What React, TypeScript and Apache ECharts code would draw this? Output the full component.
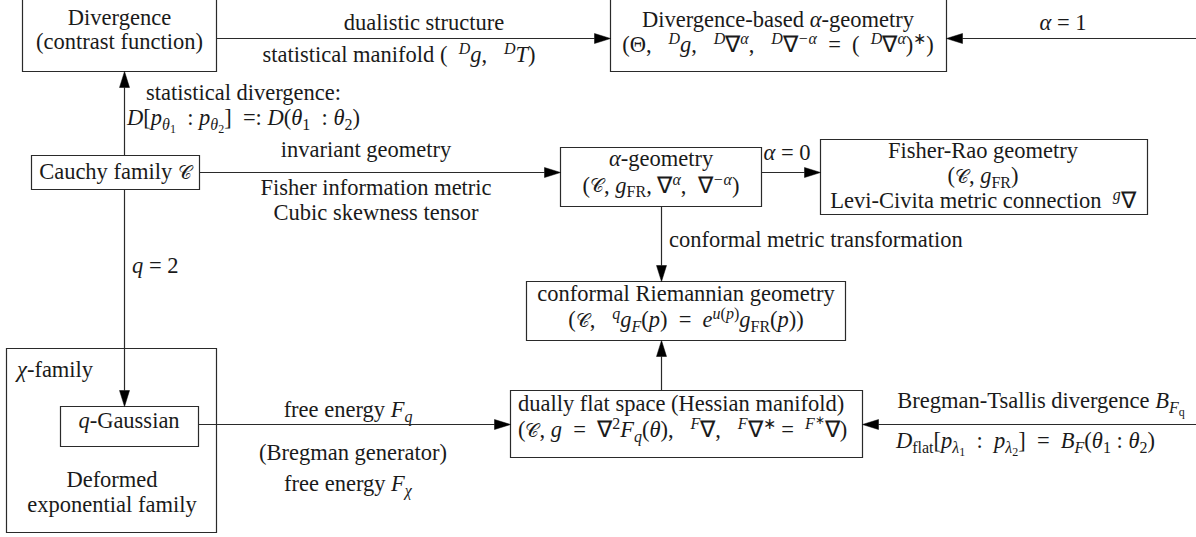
import React, { useEffect, useRef } from 'react';
import * as echarts from 'echarts';

const W = 1196;
const H = 537;
const FAMILY = "'Liberation Serif', serif";
const CALFAMILY = "'DejaVu Serif', serif";
const INK = '#1a1a1a';
const LINE = '#2a2a2a';

// ---------------- content ----------------
const CAL = '{cal|𝒞}';

const nodeIds = ['divergence', 'divAlpha', 'cauchy', 'alphaGeo', 'fisherRao', 'conformal', 'duallyFlat', 'chiFamily', 'qGaussian'];

const nodeLines: string[][] = [
  ['{r|Divergence}', '{r|(contrast function)}'],
  ['{r|Divergence-based }{i|α}{r|-geometry}', '{r|(Θ,   }{sp|D}{i|g}{r|,   }{sp|D}{r|∇}{sp|α}{r|,   }{sp|D}{r|∇}{sp|−α}{r|  =  (  }{sp|D}{r|∇}{sp|α}{r|)}{spr|∗}{r|)}'],
  ['{r|Cauchy family }' + CAL],
  ['{i|α}{r|-geometry}', '{r|(}' + CAL + '{r|, }{i|g}{sbr|FR}{r|, ∇}{sp|α}{r|,  ∇}{sp|−α}{r|)}'],
  ['{r|Fisher-Rao geometry}', '{r|(}' + CAL + '{r|, }{i|g}{sbr|FR}{r|)}', '{r|Levi-Civita metric connection  }{sp|g}{r|∇}'],
  ['{r|conformal Riemannian geometry}', '{r|(}' + CAL + '{r|,   }{sp|q}{i|g}{sb|F}{r|(}{i|p}{r|)  =  }{i|e}{sp|u}{spr|(}{sp|p}{spr|)}{i|g}{sbr|FR}{r|(}{i|p}{r|))}'],
  ['{r|dually flat space (Hessian manifold)}', '{r|(}' + CAL + '{r|, }{i|g}{r|  =  ∇}{spr|2}{i|F}{sb|q}{r|(}{i|θ}{r|),   }{sp|F}{r|∇,   }{sp|F}{r|∇}{spr|∗}{r| =  }{sp|F}{ssp|∗}{r|∇)}'],
  ['{i|χ}{r|-family}', '{r|Deformed}', '{r|exponential family}'],
  ['{i|q}{r|-Gaussian}'],
];

const edgeFrom = ['divergence', 'RIGHT', 'cauchy', 'cauchy', 'alphaGeo', 'alphaGeo', 'duallyFlat', 'qGaussian', 'RIGHT', 'cauchy'];
const edgeTo = ['divAlpha', 'divAlpha', 'divergence', 'alphaGeo', 'fisherRao', 'conformal', 'conformal', 'duallyFlat', 'duallyFlat', 'qGaussian'];

const edgeLabelLines: string[][] = [
  ['{r|dualistic structure}', '{r|statistical manifold (  }{sp|D}{i|g}{r|,   }{sp|D}{i|T}{r|)}'],
  ['{i|α}{r| = 1}'],
  ['{r|statistical divergence:}', '{i|D}{r|[}{i|p}{sb|θ}{ssb|1}{r|  : }{i|p}{sb|θ}{ssb|2}{r|]  =: }{i|D}{r|(}{i|θ}{sbr|1}{r|  : }{i|θ}{sbr|2}{r|)}'],
  ['{r|invariant geometry}', '{r|Fisher information metric}', '{r|Cubic skewness tensor}'],
  ['{i|α}{r| = 0}'],
  ['{r|conformal metric transformation}'],
  [],
  ['{r|free energy }{i|F}{sb|q}', '{r|(Bregman generator)}', '{r|free energy }{i|F}{sb|χ}'],
  ['{r|Bregman-Tsallis divergence }{i|B}{sb|F}{ssb|q}', '{i|D}{sbr|flat}{r|[}{i|p}{sb|λ}{ssb|1}{r|  :  }{i|p}{sb|λ}{ssb|2}{r|]  =  }{i|B}{sb|F}{r|(}{i|θ}{sbr|1}{r| : }{i|θ}{sbr|2}{r|)}'],
  ['{i|q}{r| = 2}'],
];

// ---------------- layout ----------------
// box corners [x0, y0, x1, y1]
const nodeBox: number[][] = [
  [22.5, -5, 216.5, 71.5],
  [610.5, -5, 946.5, 71.5],
  [31.5, 155.5, 199.5, 189.5],
  [560.5, 147.5, 761.5, 206.5],
  [820.5, 139.5, 1147.5, 214.5],
  [526.5, 281.5, 845.5, 340.5],
  [510.5, 390.5, 862.5, 457.5],
  [6.5, 348.5, 216.5, 532.5],
  [60.5, 406.5, 198.5, 446.5],
];

// text anchors [x, baseline, align]
const nodeTextPos: [number, number, string][][] = [
  [[119.5, 25, 'center'], [119.5, 49, 'center']],
  [[778, 26.5, 'center'], [778, 52, 'center']],
  [[115.5, 179, 'center']],
  [[661, 166, 'center'], [661, 192.5, 'center']],
  [[983, 158, 'center'], [983, 183, 'center'], [983, 208, 'center']],
  [[686, 301, 'center'], [686, 327, 'center']],
  [[518, 410.5, 'left'], [518, 437, 'left']],
  [[17, 377, 'left'], [112, 486.5, 'center'], [112, 511.5, 'center']],
  [[129, 428, 'center']],
];

// edge routing: orientation and fixed coordinate
const edgeRoute: [string, number][] = [
  ['h', 38.5], ['h', 38.5], ['v', 124.5], ['h', 172.5], ['h', 172.5],
  ['v', 661.5], ['v', 661.5], ['h', 424.5], ['h', 424.5], ['v', 124.5],
];

const edgeLabelPos: [number, number, string][][] = [
  [[424, 30, 'center'], [399, 62, 'center']],
  [[1063, 30, 'center']],
  [[243.5, 100, 'center'], [243.5, 125, 'center']],
  [[366, 157, 'center'], [376, 195, 'center'], [376, 220, 'center']],
  [[787, 160, 'center']],
  [[669, 247, 'left']],
  [],
  [[348, 417, 'center'], [353, 460, 'center'], [348, 491, 'center']],
  [[1041, 408, 'center'], [896, 448, 'left']],
  [[132, 273, 'left']],
];

// ---------------- styles ----------------
const FS = 22.5;
const SS = 16;
const SSS = 12;
function mkRich(): any {
  const f = (style: string, size: number, fam = FAMILY) => `${style} normal ${size}px ${fam}`;
  return {
    r: { font: f('normal', FS), fill: INK },
    i: { font: f('italic', FS), fill: INK },
    cal: { font: f('normal', 19, CALFAMILY), fill: INK },
    sp: { font: f('italic', SS), fill: INK, lineHeight: 10, padding: [0, 0, 12, 0] },
    spr: { font: f('normal', SS), fill: INK, lineHeight: 10, padding: [0, 0, 12, 0] },
    sb: { font: f('italic', SS), fill: INK, lineHeight: 10, padding: [13, 0, 0, 0] },
    sbr: { font: f('normal', SS), fill: INK, lineHeight: 10, padding: [13, 0, 0, 0] },
    ssb: { font: f('normal', SSS), fill: INK, lineHeight: 8, padding: [22, 0, 0, 0] },
    ssp: { font: f('normal', SSS), fill: INK, lineHeight: 8, padding: [0, 0, 20, 0] },
  };
}

const ARROW_LEN = 16;
const ARROW_HALF = 5;

function textEl(str: string, pos: [number, number, string]) {
  return {
    type: 'text',
    x: pos[0],
    y: pos[1] - 7.5,
    silent: true,
    style: {
      text: str,
      font: `normal normal ${FS}px ${FAMILY}`,
      fill: INK,
      align: pos[2],
      verticalAlign: 'middle',
      rich: mkRich(),
    },
  };
}

function buildElements() {
  const els: any[] = [];
  const boxOf = (id: string) => nodeBox[nodeIds.indexOf(id)];

  nodeIds.forEach((id, k) => {
    const [x0, y0, x1, y1] = nodeBox[k];
    els.push({
      type: 'rect',
      shape: { x: x0, y: y0, width: x1 - x0, height: y1 - y0 },
      style: { fill: 'none', stroke: LINE, lineWidth: 1.2 },
      z: 1,
    });
  });

  edgeFrom.forEach((from, k) => {
    const to = edgeTo[k];
    const [dir, c] = edgeRoute[k];
    const tb = boxOf(to);
    let x1: number, y1: number, x2: number, y2: number;
    if (from === 'RIGHT') {
      x1 = W; y1 = c; x2 = tb[2]; y2 = c;
    } else {
      const sb = boxOf(from);
      if (dir === 'h') {
        y1 = y2 = c;
        if (sb[2] <= tb[0]) { x1 = sb[2]; x2 = tb[0]; } else { x1 = sb[0]; x2 = tb[2]; }
      } else {
        x1 = x2 = c;
        if (sb[3] <= tb[1]) { y1 = sb[3]; y2 = tb[1]; } else { y1 = sb[1]; y2 = tb[3]; }
      }
    }
    const len = Math.hypot(x2 - x1, y2 - y1);
    const ux = (x2 - x1) / len;
    const uy = (y2 - y1) / len;
    const bx = x2 - ux * ARROW_LEN;
    const by = y2 - uy * ARROW_LEN;
    els.push({
      type: 'line',
      shape: { x1, y1, x2: bx, y2: by },
      style: { stroke: LINE, lineWidth: 1.2 },
      z: 2,
    });
    els.push({
      type: 'polygon',
      shape: {
        points: [
          [x2, y2],
          [bx - uy * ARROW_HALF, by + ux * ARROW_HALF],
          [bx + uy * ARROW_HALF, by - ux * ARROW_HALF],
        ],
      },
      style: { fill: '#000', stroke: '#000', lineWidth: 0.5 },
      z: 3,
    });
    edgeLabelLines[k].forEach((s, j) => els.push(textEl(s, edgeLabelPos[k][j])));
  });

  nodeIds.forEach((_, k) => {
    nodeLines[k].forEach((s, j) => els.push(textEl(s, nodeTextPos[k][j])));
  });
  return els;
}

export default function App() {
  const ref = useRef<HTMLDivElement>(null);
  useEffect(() => {
    if (!ref.current) return;
    const chart = echarts.init(ref.current, undefined, { renderer: 'svg' });
    chart.setOption({
      animation: false,
      backgroundColor: '#ffffff',
      graphic: { elements: buildElements() },
    });
    return () => chart.dispose();
  }, []);
  return (
    <div
      ref={ref}
      style={{ position: 'fixed', left: 0, top: 0, width: W, height: H, background: '#fff' }}
    />
  );
}
